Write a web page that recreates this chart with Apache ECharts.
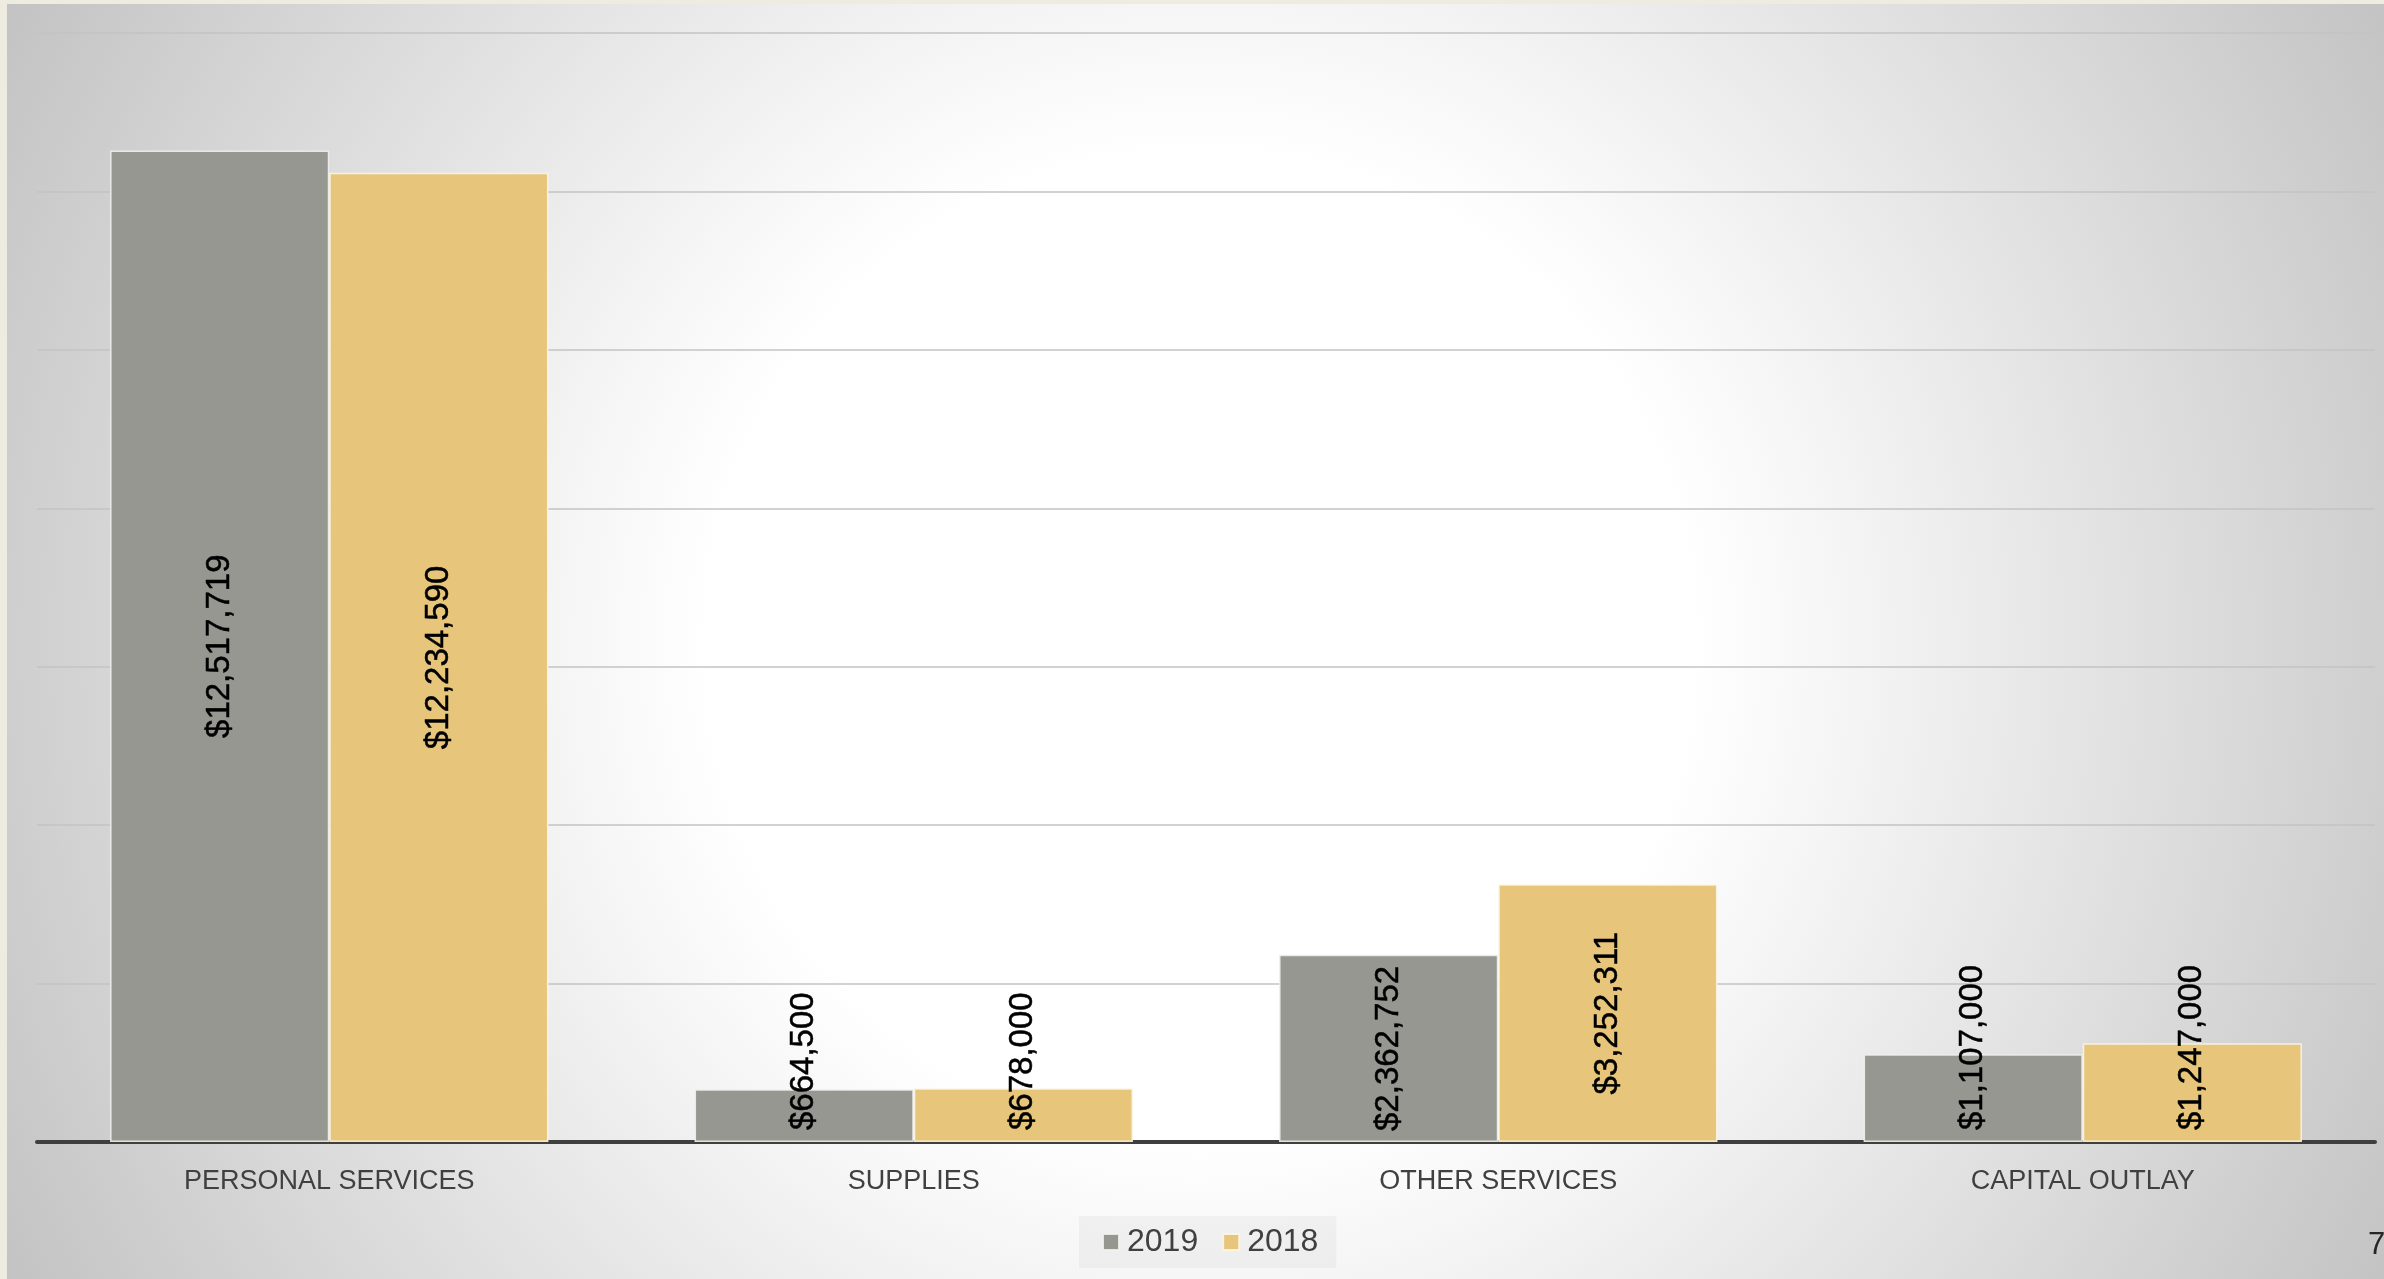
<!DOCTYPE html>
<html>
<head>
<meta charset="utf-8">
<script src="https://cdn.jsdelivr.net/npm/echarts@6/dist/echarts.min.js"></script>
<style>
  html, body { margin: 0; padding: 0; width: 2384px; height: 1279px; overflow: hidden; background: #eeebe1; }
  #bg { position: absolute; left: 7px; top: 4px; width: 2377px; height: 1275px;
        background: radial-gradient(circle 1380px at 1193px 640px, #ffffff 0px, #ffffff 490px, #f6f6f6 630px, #c1c1c1 1380px); }
  #chart { position: absolute; left: 0; top: 0; width: 2384px; height: 1279px; }
</style>
</head>
<body>
<div id="bg"></div>
<div id="chart"></div>
<script>
const categories = ['PERSONAL SERVICES', 'SUPPLIES', 'OTHER SERVICES', 'CAPITAL OUTLAY'];
const seriesNames = ['2019', '2018'];
const values2019 = [12517719, 664500, 2362752, 1107000];
const values2018 = [12234590, 678000, 3252311, 1247000];
const pageNumber = '7';

const colors = ['#979791', '#e7c67c'];
const yMax = 14000000;
const gridTop = 33, gridBottomY = 1142;
const plotH = gridBottomY - gridTop;
const labelFont = 33;

function fmt(v) { return '$' + v.toLocaleString('en-US'); }
function labelLen(s) {
  let w = 0;
  for (const c of s) w += (c === ',' ? 0.278 : 0.556);
  return w * labelFont;
}
function buildData(vals) {
  return vals.map(v => {
    const barPx = v / yMax * plotH;
    const fits = barPx >= labelLen(fmt(v)) + 20;
    return {
      value: v,
      label: fits
        ? { position: 'inside', rotate: 90, align: 'center', verticalAlign: 'middle' }
        : { position: 'insideBottom', rotate: 90, align: 'left', verticalAlign: 'middle', distance: 12 }
    };
  });
}

const chart = echarts.init(document.getElementById('chart'), null, { renderer: 'canvas' });
const labelBase = {
  show: true,
  color: '#000000',
  fontFamily: 'Liberation Sans, Arial, sans-serif',
  fontSize: labelFont,
  textBorderColor: '#000000',
  textBorderWidth: 0.5,
  formatter: p => fmt(p.value)
};
chart.setOption({
  backgroundColor: 'transparent',
  animation: false,
  grid: { left: 37, right: 9, top: gridTop, bottom: 1279 - gridBottomY, containLabel: false },
  legend: {
    data: seriesNames,
    left: 1079,
    top: 1216,
    padding: [10, 18, 10, 23],
    backgroundColor: 'rgba(0,0,0,0.035)',
    itemWidth: 16,
    itemHeight: 16,
    itemGap: 24,
    icon: 'rect',
    textStyle: { color: '#404040', fontSize: 32, fontFamily: 'Liberation Sans, Arial, sans-serif', padding: [0, 0, 0, 3] }
  },
  xAxis: {
    type: 'category',
    data: categories,
    axisLine: { lineStyle: { color: '#3f3f3f', width: 4 } },
    axisTick: { show: false },
    axisLabel: {
      color: '#404040',
      fontSize: 27,
      fontFamily: 'Liberation Sans, Arial, sans-serif',
      margin: 26
    }
  },
  yAxis: {
    type: 'value',
    min: 0,
    max: yMax,
    interval: 2000000,
    axisLabel: { show: false },
    axisLine: { show: false },
    axisTick: { show: false },
    splitLine: { lineStyle: { color: '#c3c3c3', width: 1.5 } }
  },
  series: [
    {
      name: seriesNames[0], type: 'bar', data: buildData(values2019),
      barGap: '0%', barCategoryGap: '25%',
      itemStyle: { color: colors[0], borderColor: 'rgba(240,240,235,0.9)', borderWidth: 1.5 },
      label: labelBase
    },
    {
      name: seriesNames[1], type: 'bar', data: buildData(values2018),
      barGap: '0%', barCategoryGap: '25%',
      itemStyle: { color: colors[1], borderColor: 'rgba(250,245,230,0.9)', borderWidth: 1.5 },
      label: labelBase
    }
  ],
  graphic: [{
    type: 'text',
    left: 2368,
    top: 1230,
    style: { text: pageNumber, fill: '#262626', fontSize: 31, fontFamily: 'Liberation Sans, Arial, sans-serif' }
  }]
});
</script>
</body>
</html>
